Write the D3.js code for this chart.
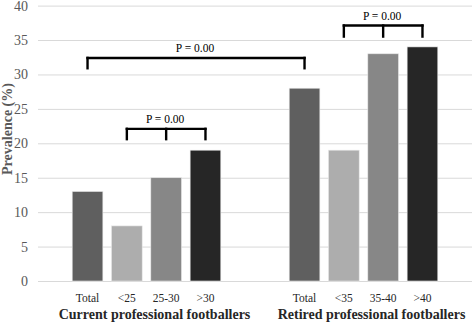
<!doctype html>
<html>
<head>
<meta charset="utf-8">
<script src="https://d3js.org/d3.v7.min.js"></script>
<style>
  body { margin: 0; background: #fff; }
  svg text { font-family: "Times New Roman", "Liberation Serif", "DejaVu Serif", serif !important; }
</style>
</head>
<body>
<svg id="chart" width="472" height="327"></svg>
<script>
// data
const groups = ["Current professional footballers", "Retired professional footballers"]
const currentCats = ["Total", "<25", "25-30", ">30"]
const currentValues = [13, 8, 15, 19]
const retiredCats = ["Total", "<35", "35-40", ">40"]
const retiredValues = [28, 19, 33, 34]
const yTicks = [0, 5, 10, 15, 20, 25, 30, 35, 40]
// brackets: [group, index] of each foot, level in % units, label
const bracketLabels = ["P = 0.00", "P = 0.00", "P = 0.00"]
const bracketFeet = [
    [[0, 0], [1, 0]],
    [[0, 1], [0, 2], [0, 3]],
    [[1, 1], [1, 2], [1, 3]]
]
const bracketLevels = [32.4, 22.1, 37.1]
const bracketTips = [30.9, 20.6, 35.5]

const barColors = ["#5f5f5f", "#adadad", "#878787", "#262626"]
const FONT = "'Times New Roman', 'Liberation Serif', 'DejaVu Serif', serif"

const MARGIN = { left: 38, top: 5.6, bottom: 281 }
const svg = d3.select("#chart")
const width = +svg.attr("width")

const cats = [currentCats, retiredCats]
const vals = [currentValues, retiredValues]

const x0 = d3.scaleBand().domain(d3.range(groups.length)).range([MARGIN.left, width])
const x1 = d3.scaleBand().domain(d3.range(4)).range([0, x0.bandwidth()])
    .paddingInner(0.22).paddingOuter(0.87)
const y = d3.scaleLinear().domain([0, 40]).range([MARGIN.bottom, MARGIN.top])

const cx = (g, i) => x0(g) + x1(i) + x1.bandwidth() / 2

// grid
const yAxis = d3.axisLeft(y).tickValues(yTicks).tickSize(-(width - MARGIN.left)).tickPadding(10)
const ga = svg.append("g").attr("transform", "translate(" + MARGIN.left + ",0)").call(yAxis)
    .attr("font-family", FONT)
ga.select(".domain").remove()
ga.selectAll(".tick line").attr("stroke", "#d9d9d9").attr("stroke-width", 1)
ga.selectAll(".tick text").attr("fill", "#595959").attr("font-size", 14)

// bars
groups.forEach((g, gi) => {
    const gg = svg.append("g").attr("transform", "translate(" + x0(gi) + ",0)")
    gg.selectAll("rect").data(vals[gi]).enter().append("rect")
        .attr("x", (d, i) => x1(i))
        .attr("y", d => y(d))
        .attr("width", x1.bandwidth())
        .attr("height", d => y(0) - y(d))
        .attr("fill", (d, i) => barColors[i])
        .attr("stroke", "#e6e6e6").attr("stroke-width", 0.6)

    gg.selectAll("text.cat").data(cats[gi]).enter().append("text")
        .attr("class", "cat")
        .attr("x", (d, i) => x1(i) + x1.bandwidth() / 2)
        .attr("y", 302)
        .attr("text-anchor", "middle")
        .attr("font-family", FONT)
        .attr("font-size", 11.5)
        .attr("fill", "#262626")
        .text(d => d)

    svg.append("text")
        .attr("x", x0(gi) + x0.bandwidth() / 2 + 8)
        .attr("y", 319)
        .attr("text-anchor", "middle")
        .attr("font-family", FONT)
        .attr("font-size", 14)
        .attr("font-weight", "bold")
        .attr("fill", "#262626")
        .text(g)
})

// y axis title
svg.append("text")
    .attr("transform", "translate(12," + 129 + ") rotate(-90)")
    .attr("text-anchor", "middle")
    .attr("font-family", FONT)
    .attr("font-size", 14)
    .attr("font-weight", "bold")
    .attr("fill", "#595959")
    .text("Prevalence (%)")

// brackets
bracketFeet.forEach((feet, bi) => {
    const xs = feet.map(f => cx(f[0], f[1]))
    const ly = y(bracketLevels[bi])
    const ty = y(bracketTips[bi])
    const b = svg.append("g").attr("stroke", "#000").attr("stroke-width", 2.4)
        .attr("fill", "none").attr("stroke-linecap", "square")
    b.append("line").attr("x1", d3.min(xs)).attr("x2", d3.max(xs)).attr("y1", ly).attr("y2", ly)
    xs.forEach(xx => {
        b.append("line").attr("x1", xx).attr("x2", xx).attr("y1", ly).attr("y2", ty)
    })
    svg.append("text")
        .attr("x", (d3.min(xs) + d3.max(xs)) / 2 - 1)
        .attr("y", ly - 5.5)
        .attr("text-anchor", "middle")
        .attr("font-family", FONT)
        .attr("font-size", 11.5)
        .attr("fill", "#000")
        .text(bracketLabels[bi])
})
</script>
</body>
</html>
